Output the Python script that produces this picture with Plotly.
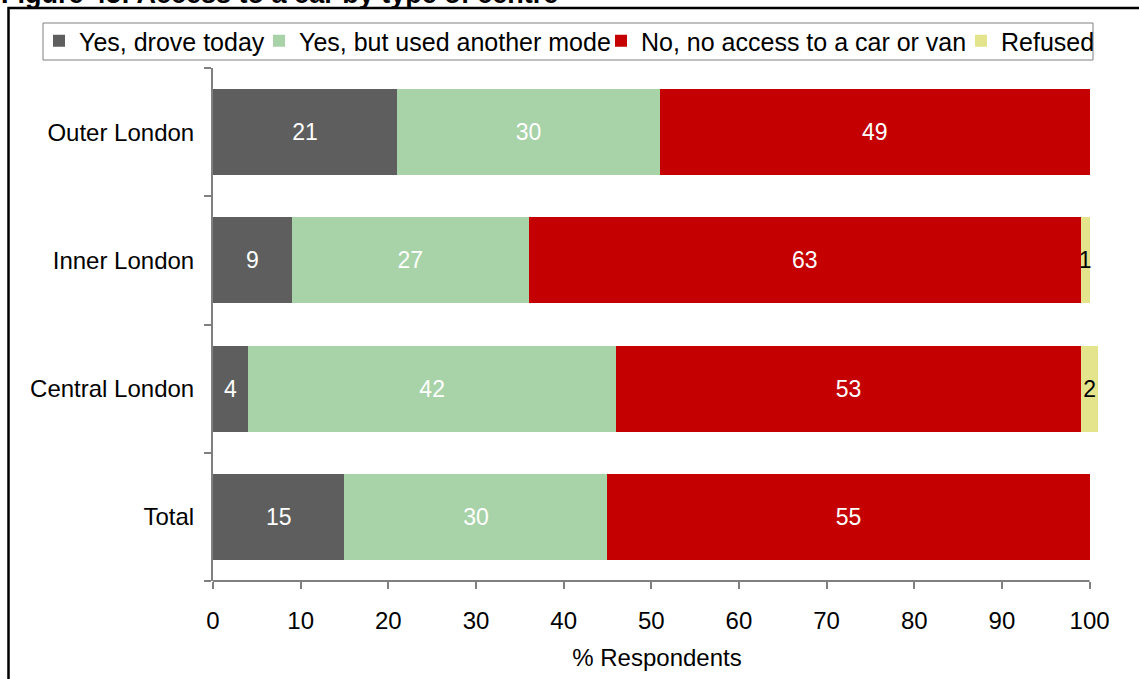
import plotly.graph_objects as go

# Data
centres = ["Total", "Central London", "Inner London", "Outer London"]
drove_today = [15, 4, 9, 21]
another_mode = [30, 42, 27, 30]
no_access = [55, 53, 63, 49]
refused = [0, 2, 1, 0]

series_names = ["Yes, drove today", "Yes, but used another mode",
                "No, no access to a car or van", "Refused"]
x_ticks = [0, 10, 20, 30, 40, 50, 60, 70, 80, 90, 100]

# Pixel layout (body margin is removed in the page, so figure px == window px)
W, H = 1139, 679
L, R, T, B = 213, 38, 68, 679 - 581
PW = W - L - R
PH = H - T - B


def px_x(px):
    return (px - L) / PW


def px_y(py):
    return (H - B - py) / PH


FONT = "Liberation Sans, Arial, sans-serif"

fig = go.Figure()

styles = [
    (drove_today, "#5e5e5e", "white"),
    (another_mode, "#a8d2a8", "white"),
    (no_access, "#c40000", "white"),
    (refused, "#e4e48c", "black"),
]
legend_ids = ["legend", "legend2", "legend3", "legend4"]
legend_text_x = [78, 298, 640, 1000]  # where each legend label starts

for name, (vals, color, tcolor), lg in zip(series_names, styles, legend_ids):
    fig.add_trace(go.Bar(
        y=centres,
        x=vals,
        name=name,
        orientation="h",
        legend=lg,
        marker=dict(color=color, line=dict(width=0)),
        text=[str(v) if v else "" for v in vals],
        textposition="inside",
        insidetextanchor="middle",
        textangle=0,
        textfont=dict(color=tcolor, size=23, family=FONT),
    ))

# x axis line only up to 100
fig.add_shape(type="line", xref="x", yref="paper", x0=0, x1=100, y0=0, y1=0,
              line=dict(color="#808080", width=2))

# outer chart frame (extends beyond the visible window)
fig.add_shape(type="rect", xref="paper", yref="paper",
              x0=px_x(8.5), x1=px_x(W + 30), y0=px_y(8), y1=px_y(H + 30),
              line=dict(color="black", width=2.5), fillcolor="rgba(0,0,0,0)",
              layer="below")

# legend box
fig.add_shape(type="rect", xref="paper", yref="paper",
              x0=px_x(43), x1=px_x(1093), y0=px_y(23), y1=px_y(60),
              line=dict(color="#808080", width=1), fillcolor="rgba(0,0,0,0)",
              layer="above")

# cut-off figure title at the very top
fig.add_annotation(text="<b>Figure 45: Access to a car by type of centre</b>",
                   xref="paper", yref="paper", x=px_x(-1), y=px_y(11),
                   xanchor="left", yanchor="bottom", showarrow=False,
                   font=dict(family=FONT, size=27, color="black"))

legends = {}
for lg, tx in zip(legend_ids, legend_text_x):
    legends[lg] = dict(
        orientation="h",
        x=px_x(tx - 39), y=px_y(18),
        xanchor="left", yanchor="top",
        borderwidth=0,
        bgcolor="rgba(0,0,0,0)",
        font=dict(family=FONT, size=25, color="black"),
        itemwidth=30,
    )

fig.update_layout(
    width=W,
    height=H,
    margin=dict(l=L, r=R, t=T, b=B),
    barmode="stack",
    bargap=0.33,
    paper_bgcolor="white",
    plot_bgcolor="white",
    font=dict(family=FONT, size=24, color="black"),
    uniformtext=dict(mode="show", minsize=23),
    showlegend=True,
    xaxis=dict(
        range=[0, 101.3],
        tickvals=x_ticks,
        showline=False,
        showgrid=False,
        zeroline=False,
        ticks="outside",
        ticklen=7,
        tickwidth=2,
        tickcolor="#808080",
        ticklabelstandoff=11,
        title=dict(text="% Respondents", standoff=16,
                   font=dict(family=FONT, size=24)),
    ),
    yaxis=dict(
        categoryorder="array",
        categoryarray=centres,
        showline=True,
        linecolor="#808080",
        linewidth=2,
        showgrid=False,
        ticks="outside",
        tickson="boundaries",
        ticklen=7,
        tickwidth=2,
        tickcolor="#808080",
        ticklabelstandoff=12,
    ),
    **legends,
)

fig.write_html("out.html", config={"displayModeBar": False},
               post_script="document.body.style.margin='0px';")
